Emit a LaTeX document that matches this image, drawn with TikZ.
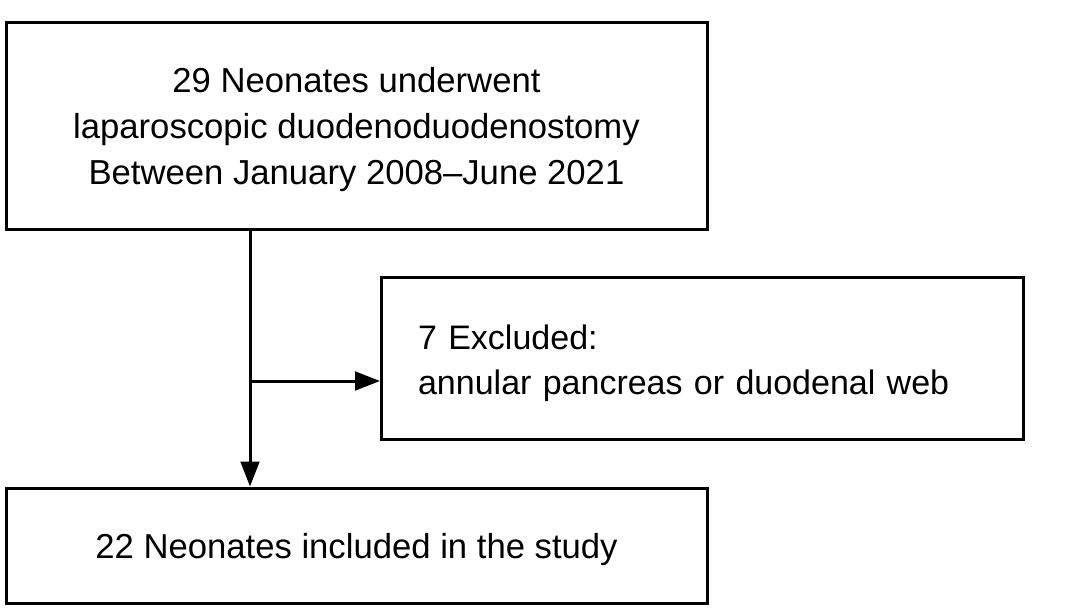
\documentclass[tikz,border=0pt]{standalone}
\usepackage{fontspec}
\setmainfont{Liberation Sans}
\usetikzlibrary{arrows.meta}

\begin{document}
\begin{tikzpicture}[x=0.75pt, y=-0.75pt]

\useasboundingbox (0,0) rectangle (1068,615);

\begin{scope}[rectangle, draw, line width=2.25pt, text depth=-2pt,
  font=\fontsize{26}{34.5}\selectfont,
  >={Triangle[length=18.75pt, width=14pt]}]
  \node[draw, minimum width=525.75pt, minimum height=155.25pt, align=center] (screened) at (356.5,125.5)
    {29 Neonates underwent\\laparoscopic duodenoduodenostomy\\Between January 2008--June 2021};
  \node[draw, inner xsep=27.4pt, text width=427pt, minimum height=121.5pt, align=left,
    text depth=31.7pt, font=\fontsize{25.5}{33.8}\selectfont] (excluded) at (702.75,358)
    {7 Excluded:\\annular pancreas or duodenal web};
  \node[draw, minimum width=525.75pt, minimum height=86.25pt] (included) at (356.5,545.5)
    {22 Neonates included in the study};

  \coordinate (split) at (250,381);

  \draw[->] (screened.south -| split) -- (included.north -| split);
  \draw[->] (split) -- (split -| excluded.west);
\end{scope}

\end{tikzpicture}
\end{document}
